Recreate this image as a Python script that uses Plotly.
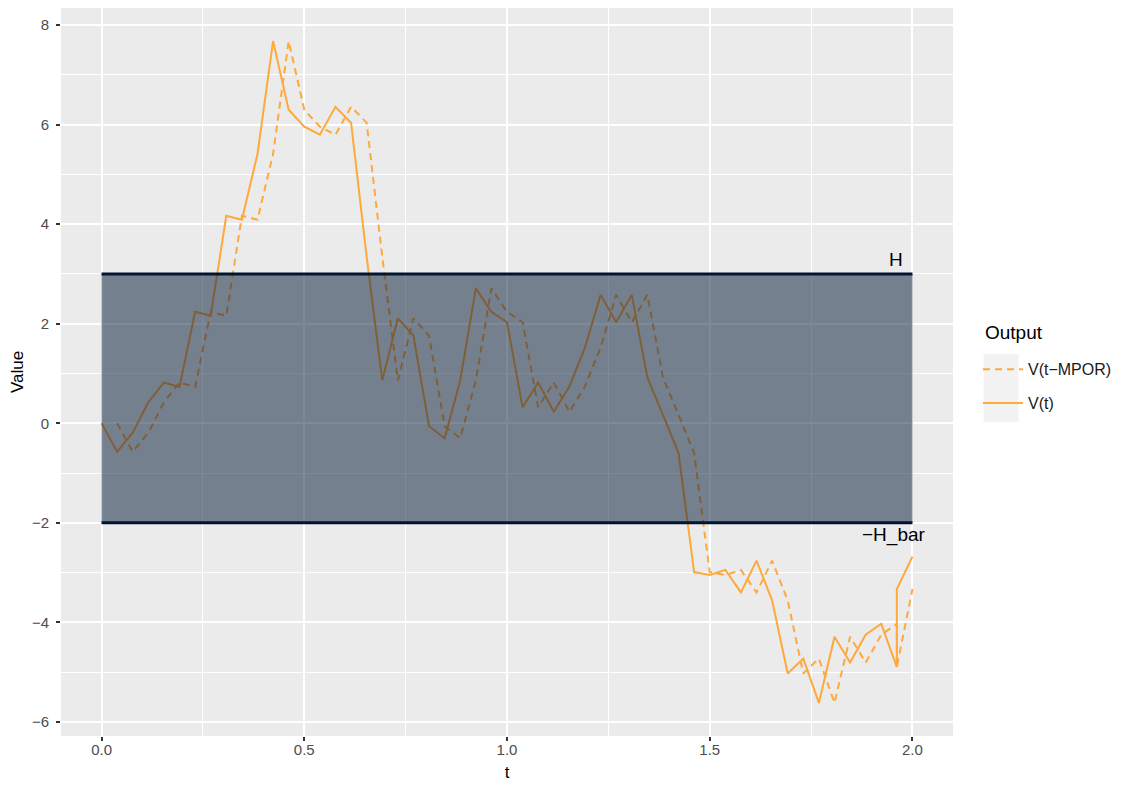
import plotly.graph_objects as go

# time grid (step 2/52, one repeated time point near the end) and simulated value V(t)
t = [0, 0.0385, 0.0769, 0.1154, 0.1538, 0.1923, 0.2308, 0.2692, 0.3077, 0.3462,
     0.3846, 0.4231, 0.4615, 0.5, 0.5385, 0.5769, 0.6154, 0.6538, 0.6923, 0.7308,
     0.7692, 0.8077, 0.8462, 0.8846, 0.9231, 0.9615, 1.0, 1.0385, 1.0769, 1.1154,
     1.1538, 1.1923, 1.2308, 1.2692, 1.3077, 1.3462, 1.3846, 1.4231, 1.4615, 1.5,
     1.5385, 1.5769, 1.6154, 1.6538, 1.6923, 1.7308, 1.7692, 1.8077, 1.8462, 1.8846,
     1.9231, 1.9615, 1.9615, 2.0]
v = [0, -0.57, -0.19, 0.42, 0.82, 0.73, 2.24, 2.16, 4.17, 4.09,
     5.41, 7.68, 6.30, 5.96, 5.80, 6.36, 6.04, 3.35, 0.86, 2.11,
     1.76, -0.06, -0.30, 0.86, 2.71, 2.24, 2.03, 0.32, 0.82, 0.23,
     0.74, 1.52, 2.58, 2.03, 2.58, 0.92, 0.17, -0.60, -2.99, -3.05,
     -2.95, -3.40, -2.76, -3.56, -5.03, -4.73, -5.62, -4.29, -4.81, -4.25,
     -4.03, -4.90, -3.33, -2.68]

# V(t-MPOR): same path lagged by one time step
t_lag = t[1:]
v_lag = v[:-1]

H = 3
H_bar = 2
series_names = ["V(t\u2212MPOR)", "V(t)"]

orange = "#FFA83C"
navy = "#001533"
font = "Liberation Sans, Arial, sans-serif"

fig = go.Figure()

fig.add_trace(go.Scatter(
    x=t_lag, y=v_lag, mode="lines", name=series_names[0], legendgroup="a",
    line=dict(color=orange, width=2, dash="7px,5px")
))
fig.add_trace(go.Scatter(
    x=t, y=v, mode="lines", name=series_names[1], legendgroup="b",
    line=dict(color=orange, width=2)
))

# band between -H_bar and H, drawn over the lines
fig.add_shape(type="rect", x0=min(t), x1=max(t), y0=-H_bar, y1=H,
              fillcolor="rgba(0,21,51,0.5)", line_width=0, layer="above")
for yy in [H, -H_bar]:
    fig.add_shape(type="line", x0=min(t), x1=max(t), y0=yy, y1=yy,
                  line=dict(color=navy, width=3), layer="above")

fig.add_annotation(x=1.96, y=H + 0.3, text="H", showarrow=False,
                   font=dict(size=19, color="black", family=font))
fig.add_annotation(x=1.955, y=-H_bar - 0.25, text="\u2212H_bar", showarrow=False,
                   font=dict(size=19, color="black", family=font))

# legend title + grey legend key background
fig.add_annotation(xref="paper", yref="paper", x=1.034, y=0.5536, xanchor="left",
                   yanchor="middle", text="Output", showarrow=False,
                   font=dict(size=19, color="black", family=font))
fig.add_shape(type="rect", xref="paper", yref="paper", x0=1.0342, x1=1.0734,
              y0=0.4313, y1=0.5247, fillcolor="#F2F2F2", line_width=0, layer="below")

ymin, ymax = min(v), max(v)
pad = 0.05 * (ymax - ymin)

fig.update_layout(
    width=1121, height=788,
    margin=dict(l=53, r=176, t=0, b=60),
    paper_bgcolor="white", plot_bgcolor="#EBEBEB",
    font=dict(family=font, color="black"),
    showlegend=True,
    legend=dict(
        font=dict(size=16, color="#1A1A1A"),
        x=1.028, xanchor="left", y=0.527, yanchor="top",
        bgcolor="rgba(0,0,0,0)", tracegroupgap=10, itemwidth=40,
    ),
    xaxis=dict(
        range=[-0.1, 2.1], tickvals=[0, 0.5, 1.0, 1.5, 2.0],
        ticktext=["0.0", "0.5", "1.0", "1.5", "2.0"],
        showgrid=True, gridcolor="white", gridwidth=2,
        minor=dict(tickvals=[0.25, 0.75, 1.25, 1.75], showgrid=True,
                   gridcolor="white", gridwidth=1, ticks=""),
        ticks="outside", ticklen=4, tickcolor="#333333", tickwidth=1.5,
        tickfont=dict(size=15, color="#4D4D4D"), ticklabelstandoff=-4,
        title=dict(text="t", font=dict(size=17, color="black"), standoff=9),
        zeroline=False, showline=False, automargin=False,
    ),
    yaxis=dict(
        range=[ymin - pad, ymax + pad], tickvals=[-6, -4, -2, 0, 2, 4, 6, 8],
        ticktext=["\u22126", "\u22124", "\u22122", "0", "2", "4", "6", "8"],
        showgrid=True, gridcolor="white", gridwidth=2,
        minor=dict(tickvals=[-5, -3, -1, 1, 3, 5, 7], showgrid=True,
                   gridcolor="white", gridwidth=1, ticks=""),
        ticks="outside", ticklen=4, tickcolor="#333333", tickwidth=1.5,
        tickfont=dict(size=15, color="#4D4D4D"), ticklabelstandoff=4,
        title=dict(text="Value", font=dict(size=17, color="black"), standoff=12),
        zeroline=False, showline=False, automargin=False,
    ),
)

fig.write_html("out.html")
